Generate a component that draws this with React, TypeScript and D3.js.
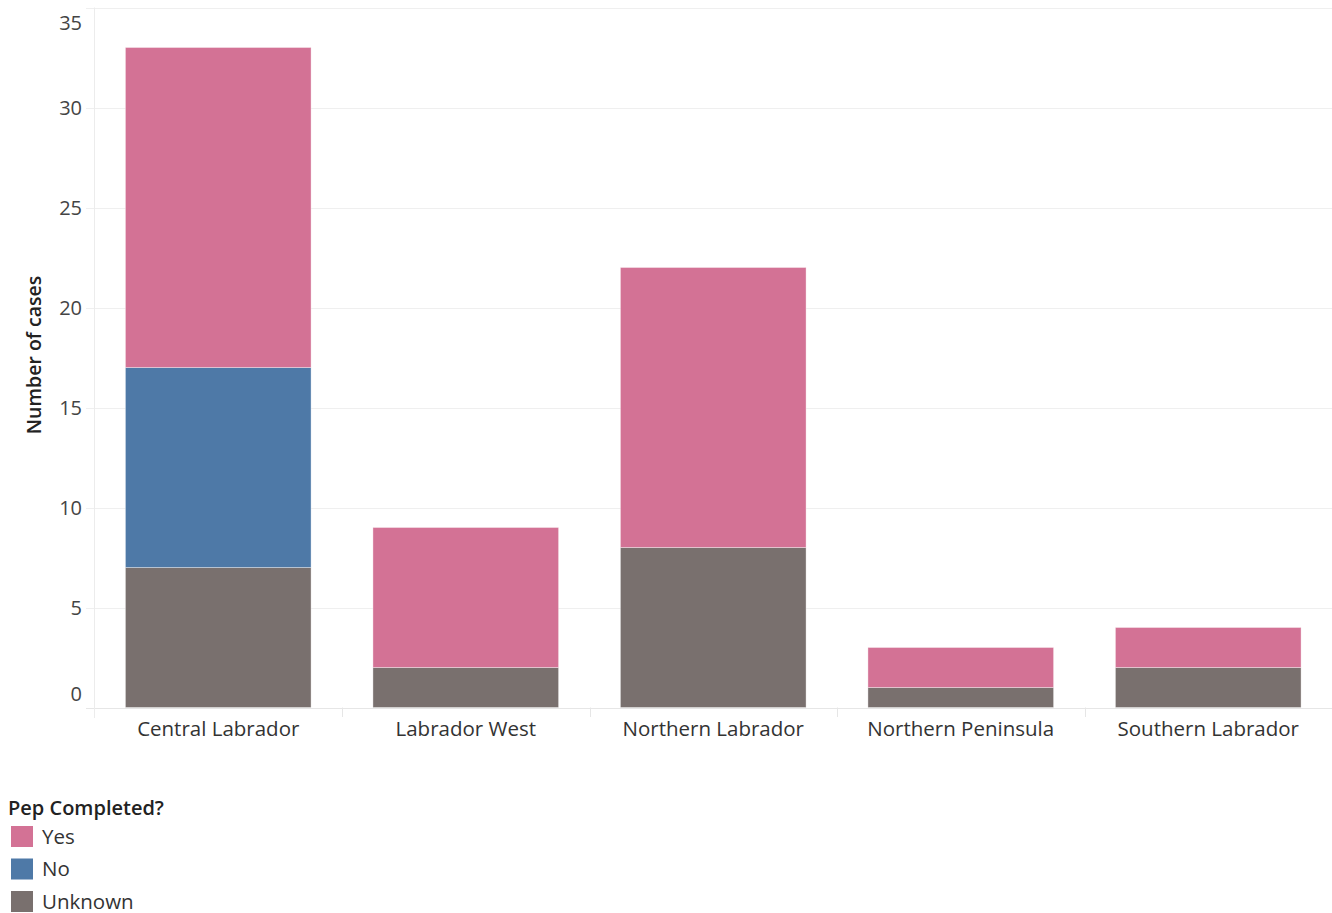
import React from "react";
import * as d3 from "d3";

const categories = ["Central Labrador", "Labrador West", "Northern Labrador", "Northern Peninsula", "Southern Labrador"];
const unknownValues = [7, 2, 8, 1, 2];
const noValues = [10, 0, 0, 0, 0];
const yesValues = [16, 7, 14, 2, 2];
const seriesNames = ["Unknown", "No", "Yes"];
const legendOrder = ["Yes", "No", "Unknown"];
const yTicks = [0, 5, 10, 15, 20, 25, 30, 35];
const colors: Record<string, string> = { Yes: "#D37295", No: "#4E79A7", Unknown: "#79706E" };

const W = 1332, H = 913;
const x0 = 94.5, x1 = 1332, yTop = 7.5, yBot = 707.5;

export default function App() {
  const rows = categories.map((c, i) => ({ cat: c, Unknown: unknownValues[i], No: noValues[i], Yes: yesValues[i] }));
  const stack = d3.stack<any>().keys(seriesNames)(rows);
  const x = d3.scaleBand().domain(categories).range([x0, x1]).paddingInner(0.25).paddingOuter(0.125);
  const y = d3.scaleLinear().domain([0, 35]).range([yBot, yTop]);
  const font = "'Open Sans', 'Noto Sans', sans-serif";
  const step = x.step();
  return (
    <svg width={W} height={H} style={{ position: "absolute", left: 0, top: 0, background: "#fff" }} fontFamily={font}>
      {yTicks.map((t) => (
        <line key={"g" + t} x1={86} x2={W} y1={Math.round(y(t)) + 0.5} y2={Math.round(y(t)) + 0.5} stroke={t === 0 ? "#e6e6e6" : "#efefef"} strokeWidth={1} />
      ))}
      <line x1={x0} x2={x0} y1={yTop} y2={718} stroke="#ececec" />
      {categories.slice(1).map((c) => (
        <line key={"s" + c} x1={Math.round((x(c) as number) - step * 0.125) + 0.5} x2={Math.round((x(c) as number) - step * 0.125) + 0.5} y1={yBot} y2={717} stroke="#e6e6e6" />
      ))}
      {stack.map((s) => (
        <g key={s.key} fill={colors[s.key]}>
          {s.map((d, i) => d[1] - d[0] > 0 ? (
            <rect key={i} x={x(categories[i])} y={y(d[1])} width={x.bandwidth()} height={y(d[0]) - y(d[1])} stroke="#ffffff" strokeOpacity={0.35} strokeWidth={1} />
          ) : null)}
        </g>
      ))}
      {yTicks.map((t) => {
        let yy = y(t);
        if (t === 35) yy += 15;
        if (t === 0) yy -= 14;
        return (
          <text key={"t" + t} x={82} y={yy} dy="0.35em" textAnchor="end" fontSize={20} fill="#444">{t}</text>
        );
      })}
      {categories.map((c) => (
        <text key={"c" + c} x={(x(c) as number) + x.bandwidth() / 2} y={729} dy="0.35em" textAnchor="middle" fontSize={20.5} fill="#333">{c}</text>
      ))}
      <text transform={`translate(34,355) rotate(-90)`} textAnchor="middle" dy="0.35em" fontSize={19.5} fontWeight="600" fill="#222">Number of cases</text>
      <text x={8} y={808} dy="0.35em" fontSize={20} fontWeight="600" fill="#222">Pep Completed?</text>
      {legendOrder.map((k, i) => (
        <g key={"l" + k}>
          <rect x={11} y={826 + i * 32.5} width={22} height={21} fill={colors[k]} />
          <text x={42} y={836.5 + i * 32.5} dy="0.35em" fontSize={20.5} fill="#333">{k}</text>
        </g>
      ))}
    </svg>
  );
}
